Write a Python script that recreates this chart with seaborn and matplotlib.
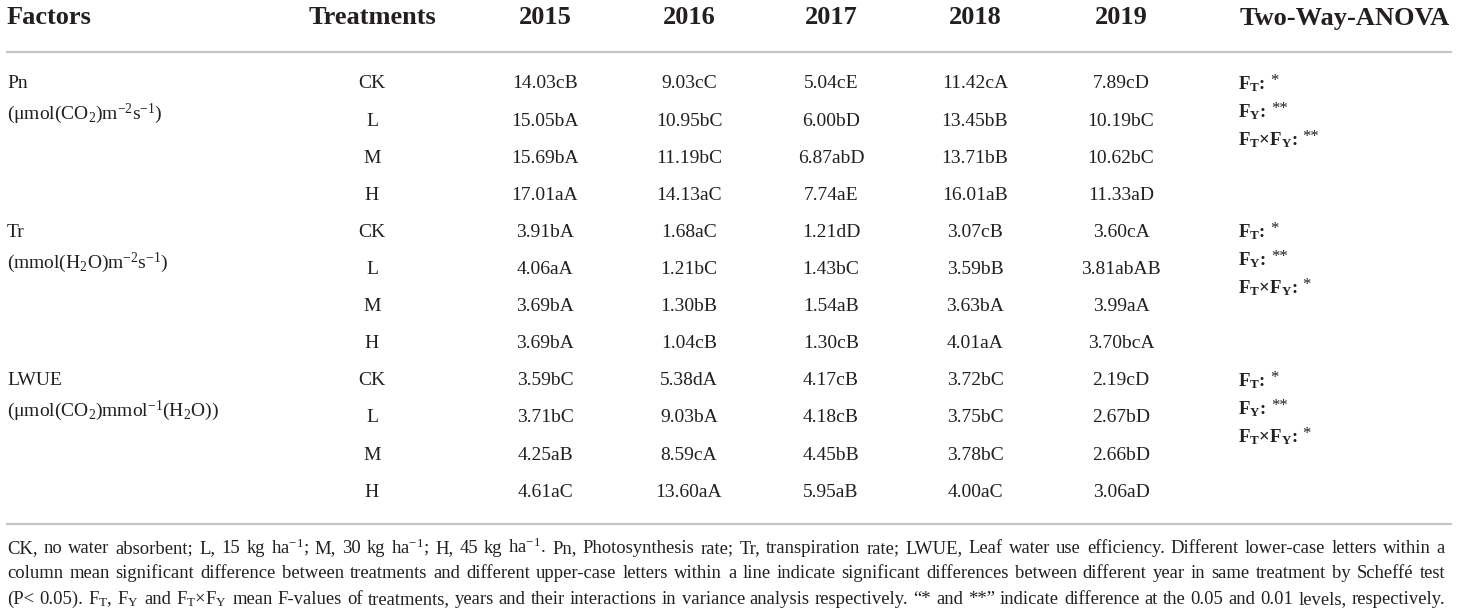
import matplotlib
matplotlib.use("Agg")
import matplotlib.pyplot as plt
import seaborn as sns

# Table content
factors = ["Pn", "Tr", "LWUE"]
units = [
    r"(μmol(CO$_{2}$)m$^{-2}$s$^{-1}$)",
    r"(mmol(H$_{2}$O)m$^{-2}$s$^{-1}$)",
    r"(μmol(CO$_{2}$)mmol$^{-1}$(H$_{2}$O))",
]
treatments = ["CK", "L", "M", "H"]
years = ["2015", "2016", "2017", "2018", "2019"]

pn_values = [
    ["14.03cB", "9.03cC", "5.04cE", "11.42cA", "7.89cD"],
    ["15.05bA", "10.95bC", "6.00bD", "13.45bB", "10.19bC"],
    ["15.69bA", "11.19bC", "6.87abD", "13.71bB", "10.62bC"],
    ["17.01aA", "14.13aC", "7.74aE", "16.01aB", "11.33aD"],
]
tr_values = [
    ["3.91bA", "1.68aC", "1.21dD", "3.07cB", "3.60cA"],
    ["4.06aA", "1.21bC", "1.43bC", "3.59bB", "3.81abAB"],
    ["3.69bA", "1.30bB", "1.54aB", "3.63bA", "3.99aA"],
    ["3.69bA", "1.04cB", "1.30cB", "4.01aA", "3.70bcA"],
]
lwue_values = [
    ["3.59bC", "5.38dA", "4.17cB", "3.72bC", "2.19cD"],
    ["3.71bC", "9.03bA", "4.18cB", "3.75bC", "2.67bD"],
    ["4.25aB", "8.59cA", "4.45bB", "3.78bC", "2.66bD"],
    ["4.61aC", "13.60aA", "5.95aB", "4.00aC", "3.06aD"],
]
anova_labels = [r"F$_{T}$:", r"F$_{Y}$:", r"F$_{T}$×F$_{Y}$:"]
anova_stars = [["*", "**", "**"], ["*", "**", "*"], ["*", "**", "*"]]

caption_lines = [
    r"CK, no water absorbent; L, 15 kg ha$^{-1}$; M, 30 kg ha$^{-1}$; H, 45 kg ha$^{-1}$. Pn, Photosynthesis rate; "
    r"Tr, transpiration rate; LWUE, Leaf water use efficiency. Different lower-case letters within a",
    r"column mean significant difference between treatments and different upper-case letters within a line "
    r"indicate significant differences between different year in same treatment by Scheffé test",
    r"(P< 0.05). F$_{T}$, F$_{Y}$ and F$_{T}$×F$_{Y}$ mean F-values of treatments, years and their interactions "
    r"in variance analysis respectively. “* and **” indicate difference at the 0.05 and 0.01 levels, respectively.",
]

sns.set_theme(style="white")
plt.rcParams["font.family"] = ["Liberation Serif", "DejaVu Serif"]
plt.rcParams["mathtext.default"] = "regular"

ink = "#231f20"
rule = "#c4c4c4"

fig = plt.figure(figsize=(14.6, 6.16), dpi=100)
ax = fig.add_axes([0, 0, 1, 1])
ax.set_xlim(0, 1460)
ax.set_ylim(616, 0)
ax.axis("off")
fig.canvas.draw()
renderer = fig.canvas.get_renderer()
inv = ax.transData.inverted()


def text_width(t):
    bb = t.get_window_extent(renderer)
    x0 = inv.transform((bb.x0, bb.y0))[0]
    x1 = inv.transform((bb.x1, bb.y0))[0]
    return x1 - x0


# column positions
x_factor = 7
x_treat = 372
x_years = [545, 689, 831, 975, 1121]
x_anova = 1238
x_right = 1445

head_y = 18
row0 = 84
row_step = 37.1

head_kw = dict(fontsize=19, fontweight="bold", color=ink, va="center")
ax.text(x_factor, head_y, "Factors", ha="left", **head_kw)
ax.text(x_treat, head_y, "Treatments", ha="center", **head_kw)
for x, yr in zip(x_years, years):
    ax.text(x, head_y, yr, ha="center", **head_kw)
ax.text(x_anova + 2, head_y, "Two-Way-ANOVA", ha="left", **head_kw)

ax.plot([6, 1452], [52, 52], color=rule, lw=1.6, solid_capstyle="butt")
ax.plot([6, 1452], [524, 524], color=rule, lw=1.6, solid_capstyle="butt")

body = dict(fontsize=14, color=ink, va="center")
blocks = [pn_values, tr_values, lwue_values]
for b, (name, unit, vals) in enumerate(zip(factors, units, blocks)):
    y_block = row0 + b * 4 * row_step
    ax.text(x_factor, y_block, name, ha="left", **body)
    ax.text(x_factor, y_block + 30, unit, ha="left", **body)
    for r, (treat, row) in enumerate(zip(treatments, vals)):
        y = y_block + r * row_step
        ax.text(x_treat, y, treat, ha="center", **body)
        for x, v in zip(x_years, row):
            ax.text(x, y, v, ha="center", **body)
    for k, (lab, star) in enumerate(zip(anova_labels, anova_stars[b])):
        y = y_block + k * 28
        t = ax.text(x_anova, y, lab, ha="left", fontsize=13.5, fontweight="bold",
                    color=ink, va="center")
        ax.text(x_anova + text_width(t) + 5, y - 3, star, ha="left",
                fontsize=12, color=ink, va="center")

# justified footnote, words share one baseline
for k, line in enumerate(caption_lines):
    y = 553 + k * 25.5
    words = line.split(" ")
    items = [ax.text(0, y, w, ha="left", va="baseline", fontsize=13.4, color=ink)
             for w in words]
    widths = [text_width(t) for t in items]
    gap = (x_right - x_factor - sum(widths)) / (len(words) - 1)
    x = x_factor
    for t, w in zip(items, widths):
        t.set_x(x)
        x += w + gap

fig.savefig("out.png", dpi=100)
